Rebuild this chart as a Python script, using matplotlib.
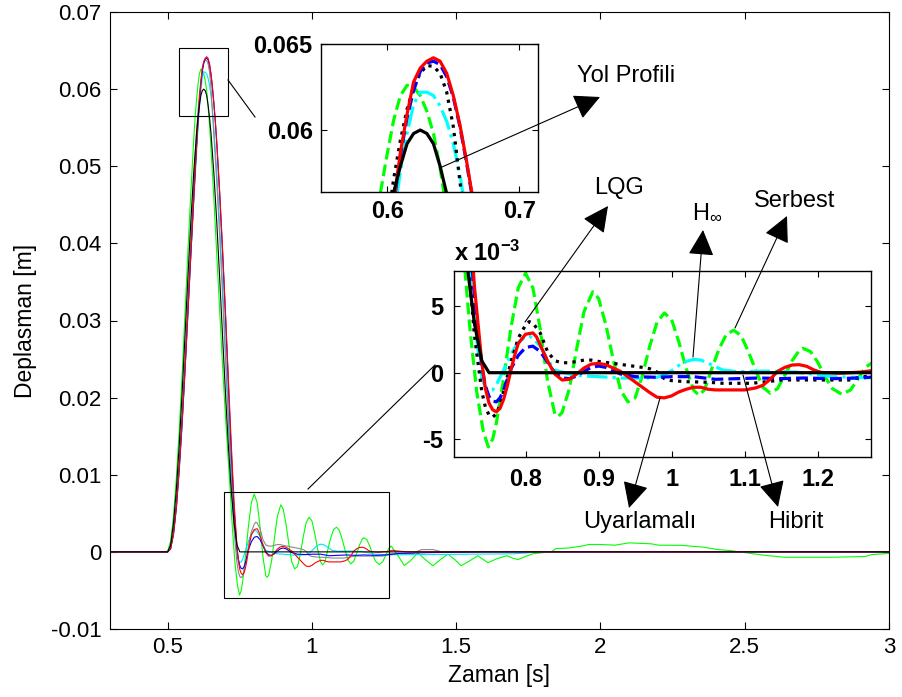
import numpy as np
import matplotlib
matplotlib.use("Agg")
import matplotlib.pyplot as plt
from matplotlib.patches import Rectangle, FancyArrowPatch
from matplotlib.lines import Line2D

plt.rcParams['font.family'] = ['Liberation Sans', 'DejaVu Sans']
plt.rcParams['mathtext.fontset'] = 'custom'
plt.rcParams['mathtext.rm'] = 'Liberation Sans'
plt.rcParams['mathtext.bf'] = 'Liberation Sans:bold'
plt.rcParams['mathtext.it'] = 'Liberation Sans:italic'

# ---------------- data (displacement in mm, time in s) ----------------
t_road = [0.30, 0.49, 0.50, 0.51, 0.52, 0.53, 0.54, 0.55, 0.56, 0.57, 0.58, 0.59, 0.60, 0.605,
          0.61, 0.615, 0.62, 0.625, 0.63, 0.635, 0.64, 0.645, 0.65, 0.66, 0.67, 0.68, 0.69,
          0.70, 0.71, 0.72, 0.73, 0.74, 0.75, 3.0]
y_road = [0, 0, 0, 0.9, 3.7, 8.1, 13.9, 20.7, 28.1, 35.6, 42.8, 49.1, 54.3, 56.4,
          57.9, 59.2, 59.8, 60.0, 59.8, 59.2, 57.9, 56.3, 54.3, 49.1, 42.8, 35.6, 28.1,
          20.7, 13.9, 8.1, 3.7, 0.9, 0, 0]

t_red = [0.30, 0.50, 0.51, 0.52, 0.53, 0.54, 0.55, 0.56, 0.57, 0.58, 0.59, 0.60, 0.605, 0.61,
         0.615, 0.62, 0.625, 0.63, 0.635, 0.64, 0.645, 0.65, 0.655, 0.66, 0.665, 0.67, 0.68,
         0.69, 0.70, 0.71, 0.72, 0.73, 0.74, 0.745, 0.75, 0.755, 0.76, 0.765, 0.77, 0.775,
         0.78, 0.785, 0.79, 0.80, 0.81, 0.815, 0.82, 0.83, 0.84, 0.85, 0.86, 0.87, 0.88,
         0.89, 0.90, 0.91, 0.92, 0.93, 0.94, 0.95, 0.96, 0.97, 0.98, 0.99, 1.00, 1.01, 1.02,
         1.03, 1.04, 1.05, 1.06, 1.08, 1.10, 1.115, 1.125, 1.135, 1.145, 1.155, 1.165, 1.175,
         1.185, 1.195, 1.205, 1.23, 1.26, 1.28, 1.30, 1.33, 3.0]
y_red = [0, 0, 0.4, 2.3, 5.8, 10.8, 16.8, 23.6, 31.0, 38.4, 45.5, 52.6, 55.8, 58.7,
         60.9, 62.8, 63.6, 64.0, 64.2, 64.0, 63.3, 62.0, 60.3, 58.2, 55.9, 53.2, 46.8,
         39.4, 31.3, 22.7, 14.3, 6.5, 0.8, -1.2, -2.3, -2.8, -2.95, -2.7, -2.0, -1.0,
         0.2, 1.3, 2.2, 2.9, 3.0, 2.7, 2.1, 0.9, -0.1, -0.55, -0.5, -0.1, 0.35,
         0.65, 0.7, 0.6, 0.35, 0.1, -0.3, -0.7, -1.1, -1.5, -1.85, -1.9, -1.75, -1.45, -1.25,
         -1.1, -1.1, -1.25, -1.3, -1.3, -1.3, -1.15, -0.95, -0.5, 0.1, 0.4, 0.58, 0.6,
         0.48, 0.2, 0.02, -0.05, 0.05, 0.2, 0.1, 0, 0]

t_blue = [0.30, 0.50, 0.51, 0.52, 0.53, 0.54, 0.55, 0.56, 0.57, 0.58, 0.59, 0.60, 0.605, 0.61,
          0.615, 0.62, 0.625, 0.63, 0.635, 0.64, 0.645, 0.65, 0.655, 0.66, 0.665, 0.67, 0.68,
          0.69, 0.70, 0.71, 0.72, 0.73, 0.74, 0.745, 0.75, 0.755, 0.76, 0.765, 0.77, 0.775,
          0.78, 0.79, 0.80, 0.81, 0.82, 0.83, 0.84, 0.85, 0.86, 0.87, 0.88, 0.89, 0.90, 0.91,
          0.92, 0.93, 0.95, 0.98, 1.00, 1.03, 1.06, 1.09, 1.12, 1.15, 1.18, 1.22, 1.26, 1.30,
          1.40, 1.60, 3.0]
y_blue = [0, 0, 0.4, 2.3, 5.8, 10.8, 16.8, 23.6, 31.0, 38.5, 45.7, 52.6, 55.7, 58.5,
          60.7, 62.3, 63.4, 63.9, 64.0, 63.8, 63.1, 61.9, 60.2, 58.1, 55.8, 53.0, 46.5,
          39.0, 30.8, 22.0, 13.2, 5.6, 0.5, -1.0, -1.8, -2.15, -2.2, -1.9, -1.3, -0.5,
          0.3, 1.3, 1.9, 2.0, 1.6, 0.8, 0.0, -0.4, -0.45, -0.25, 0.1, 0.4, 0.5, 0.4,
          0.15, -0.1, -0.3, -0.35, -0.3, -0.3, -0.5, -0.45, -0.4, -0.45, -0.4, -0.45, -0.4, -0.2,
          -0.1, 0, 0]

t_lqg = [0.30, 0.50, 0.51, 0.52, 0.53, 0.54, 0.55, 0.56, 0.57, 0.58, 0.59, 0.60, 0.605, 0.61,
         0.615, 0.62, 0.625, 0.63, 0.635, 0.64, 0.645, 0.65, 0.655, 0.66, 0.67, 0.68, 0.69,
         0.70, 0.71, 0.72, 0.73, 0.74, 0.745, 0.75, 0.755, 0.76, 0.765, 0.77, 0.78, 0.79,
         0.80, 0.805, 0.81, 0.82, 0.83, 0.84, 0.85, 0.86, 0.87, 0.88, 0.89, 0.90, 0.92, 0.94,
         0.96, 0.97, 0.98, 0.99, 1.00, 1.02, 1.05, 1.07, 1.11, 1.13, 1.15, 1.20, 1.245, 1.26,
         1.28, 1.35, 1.38, 1.42, 1.45, 3.0]
y_lqg = [0, 0, 0.5, 2.6, 6.4, 11.8, 18.2, 25.4, 33.0, 40.6, 47.8, 54.5, 57.2, 59.4,
         61.2, 62.5, 63.3, 63.75, 63.7, 63.3, 62.2, 60.2, 57.0, 54.0, 48.0, 41.0, 33.3,
         25.2, 17.0, 9.3, 2.8, -1.4, -2.6, -3.2, -3.35, -3.1, -2.4, -1.4, 0.8, 2.6,
         3.6, 3.85, 3.75, 3.0, 1.6, 0.9, 0.75, 0.75, 0.85, 0.95, 0.95, 0.85, 0.7, 0.55,
         0.4, 0.3, 0.05, -0.45, -0.6, -0.68, -0.72, -0.8, -0.8, -0.68, -0.55, -0.55, -0.55, -0.3,
         -0.25, -0.2, 0.3, 0.3, 0, 0]

t_hinf = [0.30, 0.50, 0.51, 0.52, 0.53, 0.54, 0.55, 0.56, 0.57, 0.58, 0.59, 0.60, 0.605, 0.61,
          0.615, 0.62, 0.625, 0.63, 0.635, 0.64, 0.645, 0.65, 0.655, 0.66, 0.67, 0.68, 0.69,
          0.70, 0.71, 0.72, 0.73, 0.74, 0.745, 0.75, 0.755, 0.76, 0.77, 0.78, 0.79, 0.80,
          0.805, 0.81, 0.82, 0.83, 0.84, 0.85, 0.86, 0.88, 0.90, 0.93, 0.96, 0.98, 0.99, 1.00,
          1.01, 1.02, 1.03, 1.04, 1.05, 1.06, 1.07, 1.09, 1.13, 1.17, 1.20, 1.22, 1.27, 1.40,
          1.55, 1.70, 1.80, 3.0]
y_hinf = [0, 0, 0.4, 2.2, 5.6, 10.5, 16.5, 23.4, 30.8, 38.2, 45.2, 51.7, 54.9, 57.6,
          59.8, 61.5, 62.2, 62.2, 62.0, 61.4, 60.5, 59.2, 57.4, 55.0, 49.3, 42.6, 35.0,
          26.8, 18.3, 10.4, 3.8, -0.4, -1.1, -1.35, -1.3, -0.9, 0.2, 1.4, 2.3, 2.7,
          2.75, 2.6, 2.0, 1.0, 0.2, 0.05, -0.1, -0.25, -0.3, -0.4, -0.42, -0.35, -0.15, 0.15,
          0.55, 0.85, 1.0, 0.95, 0.72, 0.45, 0.2, 0.08, 0.12, 0.05, -0.15, -0.3, -0.38, -0.35,
          -0.3, -0.25, 0, 0]

t_free = [0.30, 0.49, 0.50, 0.51, 0.52, 0.53, 0.54, 0.55, 0.56, 0.57, 0.58, 0.59, 0.595, 0.60,
          0.605, 0.61, 0.615, 0.62, 0.625, 0.63, 0.635, 0.64, 0.645, 0.65, 0.66, 0.67, 0.68,
          0.69, 0.70, 0.71, 0.717, 0.724, 0.733, 0.742, 0.749, 0.755, 0.76, 0.77, 0.78, 0.79,
          0.80, 0.81, 0.82, 0.83, 0.84, 0.845, 0.85, 0.86, 0.87, 0.88, 0.892, 0.90, 0.91, 0.92,
          0.93, 0.94, 0.95, 0.96, 0.97, 0.98, 0.99, 1.00, 1.01, 1.02, 1.03, 1.037, 1.045, 1.055,
          1.065, 1.075, 1.085, 1.095, 1.105, 1.115, 1.125, 1.135, 1.145, 1.155, 1.165, 1.175,
          1.18, 1.19, 1.20, 1.21, 1.22, 1.233, 1.245, 1.255, 1.265, 1.275, 1.30, 1.32, 1.34,
          1.367, 1.39, 1.419, 1.445, 1.471, 1.495, 1.517, 1.545, 1.575, 1.59, 1.61, 1.64,
          1.675, 1.695, 1.714, 1.74, 1.766, 1.80, 1.83, 1.845, 1.89, 1.934, 1.96, 2.00, 2.05,
          2.10, 2.177, 2.20, 2.28, 2.357, 2.407, 2.45, 2.507, 2.565, 2.64, 2.80, 2.918, 2.94, 3.0]
y_free = [0, 0, 0.1, 1.4, 4.6, 9.6, 15.8, 23.0, 31.0, 39.0, 46.5, 53.3, 56.4, 58.6,
          60.6, 62.0, 62.6, 62.5, 62.0, 61.1, 59.8, 57.8, 55.3, 52.3, 45.8, 38.7, 31.4,
          24.2, 17.7, 11.8, 7.7, 3.2, -1.4, -4.4, -5.6, -5.0, -3.8, -0.4, 3.4, 6.4,
          7.5, 6.4, 3.3, -0.6, -3.1, -3.3, -3.0, -1.2, 1.8, 4.6, 6.1, 5.6, 3.6, 1.0,
          -1.3, -2.2, -1.9, -0.2, 2.0, 3.8, 4.5, 4.0, 2.3, 0.3, -1.3, -1.7, -1.3, 0.3,
          1.8, 2.9, 3.2, 2.8, 1.6, 0.2, -1.1, -1.55, -1.2, -0.2, 0.9, 1.7,
          1.83, 1.6, 0.8, -0.3, -1.2, -1.63, -1.3, -0.5, 0.4, 0.75, -0.6, -1.77, -1.2,
          -0.13, -0.9, -1.8, -1.0, -0.3, -1.0, -1.8, -1.2, -0.5, -0.9, -1.4, -0.9,
          -0.5, -0.8, -1.0, -0.6, -0.25, -0.1, 0.0, 0.43, 0.5, 0.74, 0.96, 0.96, 0.87,
          1.17, 1.04, 0.87, 0.85, 0.61, 0.3, 0.17, -0.13, -0.43, -0.7, -0.7, -0.6, -0.35, -0.2]

# series: (name, t, y, color, inset linestyle, main color)
series = [
    ("Serbest", t_free, y_free, '#00ff00', '--', '#00ff00'),
    ("Hinf", t_hinf, y_hinf, '#00ffff', '-.', '#00e5ff'),
    ("LQG", t_lqg, y_lqg, 'black', ':', '#8a8a8a'),
    ("Hibrit", t_blue, y_blue, '#0000ff', '--', '#0000ff'),
    ("Uyarlamali", t_red, y_red, '#ff0000', '-', '#ff0000'),
    ("Yol", t_road, y_road, 'black', '-', 'black'),
]

W, H = 902, 697
fig = plt.figure(figsize=(W / 100, H / 100), dpi=100)

def fx(x):
    return x / W

def fy(y):
    return 1 - y / H

def box(x0, y0, x1, y1):
    return [fx(x0), fy(y1), fx(x1) - fx(x0), fy(y0) - fy(y1)]

# ---------------- main axes ----------------
ax = fig.add_axes(box(110, 12, 889, 629))
for name, t, y, c, ls, mc in series:
    ax.plot(t, np.array(y) / 1000.0, color=mc, lw=0.8, solid_joinstyle='round')
ax.set_xlim(0.3, 3.0)
ax.set_ylim(-0.01, 0.07)
ax.set_xticks([0.5, 1, 1.5, 2, 2.5, 3])
ax.set_xticklabels(["0.5", "1", "1.5", "2", "2.5", "3"])
ax.set_yticks([-0.01, 0, 0.01, 0.02, 0.03, 0.04, 0.05, 0.06, 0.07])
ax.set_yticklabels(["-0.01", "0", "0.01", "0.02", "0.03", "0.04", "0.05", "0.06", "0.07"])
ax.tick_params(direction='in', top=True, right=True, length=5, width=0.8, labelsize=16, pad=6)
for s in ax.spines.values():
    s.set_linewidth(0.8)
ax.set_xlabel("Zaman [s]", fontsize=16.5, labelpad=4)
ax.set_ylabel("Deplasman [m]", fontsize=16.5, labelpad=10)

# zoom rectangles in main axes
ax.add_patch(Rectangle((0.54, 0.0565), 0.17, 0.0088, fill=False, lw=0.8, ec='black', zorder=5))
ax.add_patch(Rectangle((0.6965, -0.0060), 0.5695, 0.0137, fill=False, lw=0.8, ec='black', zorder=5))

# connector lines (figure pixels)
fig.add_artist(Line2D([fx(228), fx(255)], [fy(80), fy(117)], color='black', lw=0.8))
fig.add_artist(Line2D([fx(308), fx(435)], [fy(489), fy(365)], color='black', lw=0.8))

# ---------------- inset 1 (peak) ----------------
ax1 = fig.add_axes(box(321, 44, 538, 192))
for name, t, y, c, ls, mc in series:
    ax1.plot(t, np.array(y) / 1000.0, color=c, ls=ls, lw=2.3)
ax1.set_xlim(0.55, 0.714)
ax1.set_ylim(0.0564, 0.065)
ax1.set_xticks([0.6, 0.7])
ax1.set_xticklabels(["0.6", "0.7"])
ax1.set_yticks([0.06, 0.065])
ax1.set_yticklabels(["0.06", "0.065"])
ax1.tick_params(direction='in', top=True, right=True, length=4, width=0.8, labelsize=17, pad=6)
for lab in ax1.get_xticklabels() + ax1.get_yticklabels():
    lab.set_fontweight('bold')
for s in ax1.spines.values():
    s.set_linewidth(1.0)

# ---------------- inset 2 (oscillation) ----------------
ax2 = fig.add_axes(box(454, 271, 871, 457))
for name, t, y, c, ls, mc in series:
    ax2.plot(t, y, color=c, ls=ls, lw=2.3)
ax2.set_xlim(0.702, 1.273)
ax2.set_ylim(-6.36, 7.67)
ax2.set_xticks([0.8, 0.9, 1.0, 1.1, 1.2])
ax2.set_xticklabels(["0.8", "0.9", "1", "1.1", "1.2"])
ax2.set_yticks([-5, 0, 5])
ax2.set_yticklabels(["-5", "0", "5"])
ax2.tick_params(direction='in', top=True, right=True, length=4, width=0.8, labelsize=17, pad=8)
for lab in ax2.get_xticklabels() + ax2.get_yticklabels():
    lab.set_fontweight('bold')
for s in ax2.spines.values():
    s.set_linewidth(1.0)
ax2.text(0.0, 1.03, r'$\mathbf{x\ 10^{-3}}$', transform=ax2.transAxes, fontsize=17,
         ha='left', va='bottom')

# ---------------- annotations ----------------
def arrow(x0, y0, x1, y1):
    a = FancyArrowPatch((fx(x0), fy(y0)), (fx(x1), fy(y1)), transform=fig.transFigure,
                        arrowstyle='-|>,head_length=0.9,head_width=0.45', mutation_scale=18,
                        lw=0.8, color='black', shrinkA=0, shrinkB=0)
    fig.add_artist(a)

def label(x, y, s, **kw):
    fig.text(fx(x), fy(y), s, ha='center', va='center', fontsize=17, **kw)

arrow(442, 167, 600, 97)
label(626, 76, "Yol Profili")
arrow(525, 322, 608, 206)
label(619, 188, "LQG")
arrow(693, 357, 703, 230)
label(707, 213, r'H$_{\infty}$')
arrow(735, 328, 787, 216)
label(795, 201, "Serbest")
arrow(660, 398, 629, 508)
label(640, 522, "Uyarlamalı")
arrow(743, 375, 778, 507)
label(796, 522, "Hibrit")

fig.savefig("out.png", dpi=100)
